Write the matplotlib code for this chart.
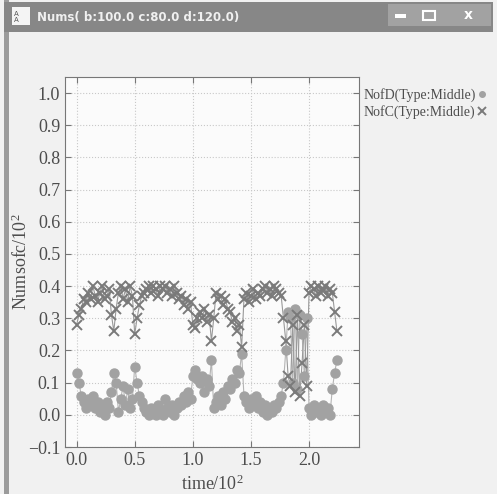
import numpy as np
import matplotlib
matplotlib.use('Agg')
from matplotlib import pyplot as plt
from matplotlib.patches import Rectangle

# time in units of 10^2, values in units of 10^2
time = np.arange(0, 226, 2) / 100.0

nofc = [0.28, 0.31, 0.33, 0.36, 0.35,
        0.38, 0.36, 0.40, 0.37, 0.35, 0.38, 0.40, 0.36, 0.37, 0.39,
        0.31, 0.26, 0.33,
        0.38, 0.40, 0.36, 0.39, 0.35, 0.40, 0.37,
        0.25, 0.30,
        0.34, 0.37, 0.38,
        0.39, 0.40, 0.38, 0.40, 0.39, 0.37, 0.40, 0.39, 0.40, 0.38, 0.39, 0.37, 0.40, 0.38, 0.36,
        0.37, 0.34, 0.36, 0.33, 0.35,
        0.28, 0.27, 0.30,
        0.32, 0.30, 0.33, 0.29, 0.31,
        0.23, 0.30,
        0.38, 0.36, 0.37, 0.34, 0.36, 0.33,
        0.32, 0.29, 0.30, 0.26, 0.28,
        0.21,
        0.36, 0.38, 0.35, 0.37, 0.39, 0.36, 0.38, 0.37, 0.39, 0.40, 0.38, 0.39, 0.37, 0.40, 0.39, 0.38, 0.37,
        0.30,
        0.23, 0.12, 0.09, 0.28, 0.07, 0.31, 0.06, 0.16, 0.28, 0.09,
        0.38, 0.40, 0.39, 0.37, 0.40, 0.38, 0.39, 0.40, 0.37, 0.39,
        0.38, 0.32, 0.26]

nofd = [0.13, 0.10, 0.06, 0.04, 0.02,
        0.05, 0.03, 0.06, 0.02, 0.04, 0.01, 0.03, 0.00, 0.04, 0.02,
        0.07, 0.13, 0.10,
        0.01, 0.05, 0.09, 0.03, 0.08, 0.02, 0.05,
        0.15, 0.10,
        0.06, 0.04, 0.02,
        0.01, 0.00, 0.02, 0.01, 0.00, 0.03, 0.01, 0.00, 0.05, 0.02, 0.01, 0.03, 0.00, 0.02, 0.04,
        0.03, 0.06, 0.04, 0.07, 0.05,
        0.12, 0.14, 0.11,
        0.10, 0.12, 0.07, 0.11, 0.09,
        0.17, 0.02,
        0.04, 0.06, 0.03, 0.07, 0.05, 0.09,
        0.08, 0.11, 0.10, 0.14, 0.13,
        0.19,
        0.06, 0.04, 0.02, 0.05, 0.03, 0.06, 0.02, 0.04, 0.01, 0.03, 0.00, 0.02, 0.01, 0.03, 0.02, 0.04, 0.06,
        0.10,
        0.20, 0.32, 0.30, 0.10, 0.33, 0.08, 0.31, 0.25, 0.12, 0.30,
        0.02, 0.00, 0.03, 0.01, 0.02, 0.00, 0.03, 0.01, 0.02, 0.00,
        0.08, 0.13, 0.17]

labels = ['NofD(Type:Middle)', 'NofC(Type:Middle)']
xticks = [0.0, 0.5, 1.0, 1.5, 2.0]
yticks = [-0.1, 0.0, 0.1, 0.2, 0.3, 0.4, 0.5, 0.6, 0.7, 0.8, 0.9, 1.0]
title = 'Nums( b:100.0 c:80.0 d:120.0)'

plt.rcParams['font.family'] = 'Liberation Serif'
plt.rcParams['mathtext.fontset'] = 'custom'
plt.rcParams['mathtext.rm'] = 'Liberation Serif'
plt.rcParams['mathtext.it'] = 'Liberation Serif:italic'

W, H = 497, 494
fig = plt.figure(figsize=(W / 100, H / 100), dpi=100, facecolor='#f1f1f1')

def box(x, y, w, h, **kw):
    # rectangle in pixel coords from the top left
    r = Rectangle((x / W, 1 - (y + h) / H), w / W, h / H, transform=fig.transFigure, **kw)
    fig.add_artist(r)

# window chrome
box(4, 0, 5, H, color='#9b9b9b', lw=0)
box(4, 2, 489, 30, color='#878787', lw=0)
box(388, 4, 103, 22, color='#a2a2a2', lw=0)
box(12, 7, 18, 18, color='#f4f4f4', lw=0)
fig.text(14 / W, 1 - 17 / H, 'A\nA', fontsize=5, color='#555555', family='DejaVu Sans', va='center')
fig.text(37 / W, 1 - 18 / H, title, fontsize=8.5, color='#f0f0f0', weight='bold',
         family='DejaVu Sans', va='center')
box(395, 14, 11, 4, color='white', lw=0)
box(423, 11, 12, 9, fill=False, ec='white', lw=1.5)
fig.text(468 / W, 1 - 15 / H, 'x', fontsize=10, color='white', weight='bold',
         family='DejaVu Sans', ha='center', va='center')

ax = fig.add_axes([65 / W, 47 / H, 294 / W, 370 / H])
ax.set_facecolor('#fbfbfb')

ax.plot(time, nofd, '-', color='#b4b4b4', lw=0.8, zorder=2)
ax.plot(time, nofd, 'o', color='#a2a2a2', ms=6.5, mec='#a2a2a2', label=labels[0], zorder=3)
ax.plot(time, nofc, '-', color='#999999', lw=0.8, zorder=2)
ax.plot(time, nofc, 'x', color='#7a7a7a', ms=7.5, mew=1.4, label=labels[1], zorder=4)

ax.set_xlim(-0.1, 2.43)
ax.set_ylim(-0.1, 1.05)
ax.set_xticks(xticks)
ax.set_yticks(yticks)
ax.set_xticklabels(['%.1f' % v for v in xticks])
ax.set_yticklabels(['\u2212%.1f' % -v if v < 0 else '%.1f' % v for v in yticks])
ax.grid(True, ls=':', color='#c8c8c8', lw=0.8)
ax.tick_params(direction='in', top=True, right=True, length=4, labelsize=13,
               colors='#777777', labelcolor='#4d4d4d')
for s in ax.spines.values():
    s.set_color('#777777')
ax.set_xlabel('time/10$^2$', fontsize=13, color='#4d4d4d', labelpad=4)
ax.set_ylabel('Numsofc/10$^2$', fontsize=13, color='#4d4d4d')
ax.yaxis.set_label_coords(-0.115, 0.5)

leg = ax.legend(loc='upper left', bbox_to_anchor=(0.995, 0.985), frameon=False,
                markerfirst=False, handlelength=0.6, handletextpad=0.2,
                labelspacing=0.25, borderaxespad=0, fontsize=10, numpoints=1)
for t in leg.get_texts():
    t.set_color('#4d4d4d')
leg.legend_handles[0].set_markersize(4)
leg.legend_handles[1].set_markersize(6)

fig.savefig('out.png', dpi=100, facecolor=fig.get_facecolor())
